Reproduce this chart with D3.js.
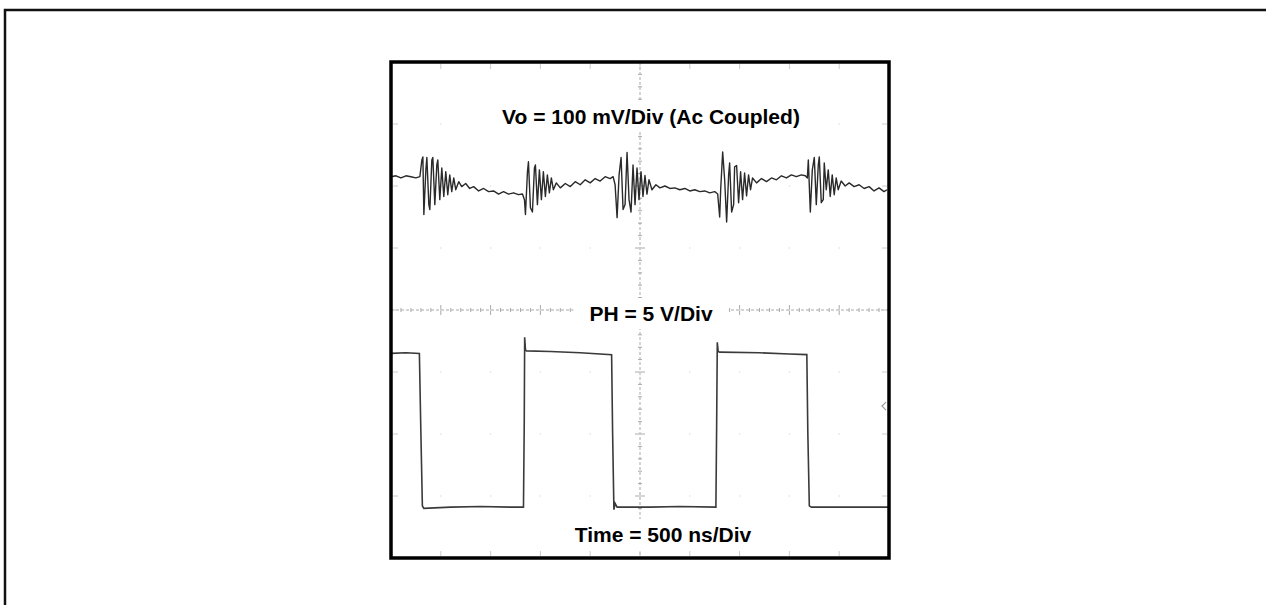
<!DOCTYPE html>
<html>
<head>
<meta charset="utf-8">
<script src="https://cdn.jsdelivr.net/npm/d3@7"></script>
<style>
  body { margin: 0; background: #fff; }
  text { font-family: "Liberation Sans", Arial, sans-serif; font-weight: bold; }
</style>
</head>
<body>
<script>
var w = 1266;
var h = 605;

// scope settings
var timePerDiv = 500;      // ns
var voPerDiv = 100;        // mV
var phPerDiv = 5;          // V
var voOffset = 2.02;       // divisions above centre
var phOffset = -3.18;      // divisions (ground level)

var labels = ["Vo = 100 mV/Div (Ac Coupled)", "PH = 5 V/Div", "Time = 500 ns/Div"];

// Vo trace, [time ns, mV]
var voTrace = [
  [0,13],[50,14.5],[100,11],[150,14.5],[200,13],[250,11],[290,13],
  [310,40],[320,45],[330,-48],[350,24],[360,44],[380,-32],[390,-40],[410,40],[420,44],
  [440,-32],[460,32],[470,40],[490,-24],[510,27],[530,-19],[550,21],[570,-16],[590,16],
  [610,-11],[630,11],[650,-8],[680,5],[710,-3],[750,2],[790,-6],[830,-3],[880,-10],
  [930,-6],[980,-11],[1030,-10],[1080,-15],[1130,-11],[1180,-15],[1230,-13],[1280,-16],[1320,-15],
  [1340,-24],[1350,-48],[1370,21],[1380,37],[1400,-37],[1420,-44],[1440,27],[1450,32],
  [1470,-32],[1490,24],[1510,-24],[1530,21],[1550,-19],[1570,16],[1590,-13],[1610,11],
  [1630,-8],[1660,3],[1700,-5],[1750,2],[1800,-3],[1850,5],[1900,0],[1950,8],[2000,3],
  [2050,10],[2100,6],[2150,13],[2200,10],[2230,13],
  [2250,0],[2270,-53],[2290,16],[2310,44],[2330,-40],[2350,-32],[2370,52],[2390,-24],
  [2410,-44],[2430,32],[2450,-32],[2470,27],[2490,-24],[2510,21],[2530,-19],[2550,15],
  [2570,-15],[2590,8],[2620,-8],[2660,0],[2700,-5],[2750,-2],[2800,-6],[2850,-5],[2900,-8],
  [2950,-6],[3000,-10],[3050,-8],[3100,-11],[3150,-10],[3200,-13],[3250,-11],[3280,-15],
  [3300,-52],[3310,-8],[3330,53],[3350,8],[3370,-60],[3390,16],[3400,35],[3420,-44],
  [3440,-32],[3450,29],[3470,31],[3490,-29],[3510,21],[3530,-24],[3550,19],[3570,-18],
  [3590,16],[3610,-8],[3630,11],[3670,3],[3720,10],[3770,5],[3820,11],[3870,8],[3920,14.5],
  [3970,11],[4020,16],[4070,13],[4120,16],[4160,14.5],
  [4180,11],[4190,40],[4210,-44],[4230,24],[4250,44],[4270,-32],[4290,32],[4300,45],
  [4320,-29],[4340,-24],[4350,35],[4370,-8],[4390,24],[4410,-19],[4430,16],[4450,-16],
  [4470,11],[4490,-8],[4520,6],[4560,-2],[4600,3],[4650,-3],[4700,0],[4750,-6],[4800,-3],
  [4850,-10],[4900,-5],[4950,-11],[4980,-8]
];

// PH (switch node) trace, [time ns, V]
var phTrace = [
  [0,12.4],[150,12.45],[285,12.4],[300,6],[315,0.1],[330,-0.1],[600,0],[900,0.05],[1200,0],[1330,0],
  [1338,7],[1342,13.7],[1350,12.7],[1360,12.6],[1600,12.55],[1900,12.45],[2215,12.3],
  [2225,6],[2238,-0.2],[2250,0.3],[2270,0],[2600,0],[2900,0.05],[3262,0],
  [3270,7],[3276,13.3],[3285,12.55],[3300,12.5],[3700,12.45],[4000,12.35],[4175,12.3],
  [4185,6],[4200,0.1],[4220,0],[4600,0],[5000,0]
];

var svg = d3.select("body").append("svg")
            .attr("width", w)
            .attr("height", h);

// outer frame
svg.append("rect")
   .attr("x", 5).attr("y", 10)
   .attr("width", w + 40).attr("height", h + 40)
   .attr("fill", "none")
   .attr("stroke", "#111")
   .attr("stroke-width", 2.5);

var x = d3.scaleLinear().domain([0, 10 * timePerDiv]).range([391, 889]);
var y = d3.scaleLinear().domain([-4, 4]).range([558, 62]);

var grid = svg.append("g").attr("stroke", "#aaa").attr("stroke-width", 1);

// centre crosshair, dashed with small ticks
grid.append("line")
    .attr("x1", x(0)).attr("x2", x(5000))
    .attr("y1", y(0)).attr("y2", y(0))
    .attr("stroke-dasharray", "3,2");
grid.append("line")
    .attr("x1", x(2500)).attr("x2", x(2500))
    .attr("y1", y(4)).attr("y2", y(-4))
    .attr("stroke-dasharray", "3,2");

var minorX = d3.range(1, 50).map(function(i){ return i * timePerDiv / 5; });
var minorY = d3.range(-19, 20).map(function(i){ return i / 5; });

grid.selectAll(".tx")
    .data(minorX)
    .enter()
    .append("line")
    .attr("x1", function(d){ return x(d); })
    .attr("x2", function(d){ return x(d); })
    .attr("y1", function(d, i){ return y(0) - ((i + 1) % 5 == 0 ? 5 : 2); })
    .attr("y2", function(d, i){ return y(0) + ((i + 1) % 5 == 0 ? 5 : 2); });

grid.selectAll(".ty")
    .data(minorY)
    .enter()
    .append("line")
    .attr("y1", function(d){ return y(d); })
    .attr("y2", function(d){ return y(d); })
    .attr("x1", function(d, i){ return x(2500) - ((i + 1) % 5 == 0 ? 5 : 2); })
    .attr("x2", function(d, i){ return x(2500) + ((i + 1) % 5 == 0 ? 5 : 2); });

// edge ticks and faint grid dots
var majorX = d3.range(1, 10).map(function(i){ return i * timePerDiv; });
var majorY = d3.range(-3, 4);

majorX.forEach(function(t){
    grid.append("line").attr("x1", x(t)).attr("x2", x(t)).attr("y1", y(4) + 2).attr("y2", y(4) + 7).attr("stroke", "#ccc");
    grid.append("line").attr("x1", x(t)).attr("x2", x(t)).attr("y1", y(-4) - 7).attr("y2", y(-4) - 2).attr("stroke", "#ccc");
    majorY.forEach(function(v){
        grid.append("circle").attr("cx", x(t)).attr("cy", y(v)).attr("r", 0.8)
            .attr("stroke", "none").attr("fill", "#ddd");
    });
});
majorY.forEach(function(v){
    grid.append("line").attr("y1", y(v)).attr("y2", y(v)).attr("x1", x(0) + 2).attr("x2", x(0) + 7).attr("stroke", "#ccc");
    grid.append("line").attr("y1", y(v)).attr("y2", y(v)).attr("x1", x(5000) - 7).attr("x2", x(5000) - 2).attr("stroke", "#ccc");
});

// labels with white backing
var labelPos = [[651, 124], [651, 321], [663, 542]];
labels.forEach(function(s, i){
    var t = svg.append("text")
       .attr("x", labelPos[i][0])
       .attr("y", labelPos[i][1])
       .attr("text-anchor", "middle")
       .attr("font-size", 21)
       .attr("fill", "#000")
       .text(s);
    var b = t.node().getBBox();
    svg.insert("rect", "text")
       .attr("x", b.x - 16).attr("y", b.y - 4)
       .attr("width", b.width + 32).attr("height", b.height + 8)
       .attr("fill", "#fff");
});

// traces
var voLine = d3.line()
    .x(function(d){ return x(d[0]); })
    .y(function(d){ return y(voOffset + d[1] / voPerDiv); });

var phLine = d3.line()
    .x(function(d){ return x(d[0]); })
    .y(function(d){ return y(phOffset + d[1] / phPerDiv); });

svg.append("path")
   .attr("d", voLine(voTrace))
   .attr("fill", "none")
   .attr("stroke", "#2a2a2a")
   .attr("stroke-width", 1.4)
   .attr("stroke-linejoin", "round");

svg.append("path")
   .attr("d", phLine(phTrace))
   .attr("fill", "none")
   .attr("stroke", "#3a3a3a")
   .attr("stroke-width", 1.6);

// trigger level marker
svg.append("path")
   .attr("d", "M" + (x(5000) - 3) + "," + (y(-1.55) - 4) + "L" + (x(5000) - 7) + "," + y(-1.55) + "L" + (x(5000) - 3) + "," + (y(-1.55) + 4))
   .attr("fill", "none")
   .attr("stroke", "#999")
   .attr("stroke-width", 1.2);

// screen frame
svg.append("rect")
   .attr("x", x(0)).attr("y", y(4))
   .attr("width", x(5000) - x(0)).attr("height", y(-4) - y(4))
   .attr("fill", "none")
   .attr("stroke", "#000")
   .attr("stroke-width", 3.5);
</script>
</body>
</html>
